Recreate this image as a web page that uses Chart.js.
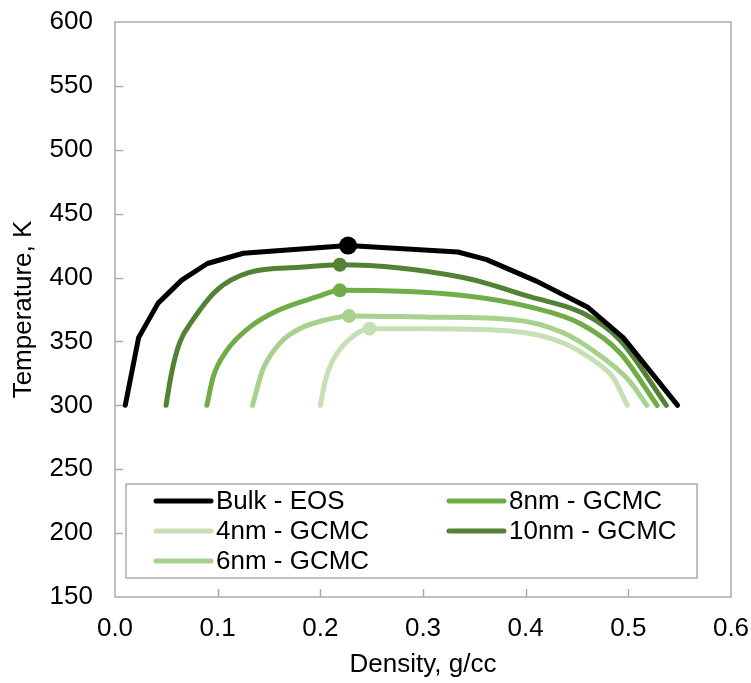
<!DOCTYPE html>
<html>
<head>
<meta charset="utf-8">
<script src="https://cdn.jsdelivr.net/npm/chart.js@4"></script>
<style>
  body { margin: 0; background: #fff; }
  #wrap { width: 751px; height: 683px; }
</style>
</head>
<body>
<div id="wrap"><canvas id="PhaseChart" width="751" height="683"></canvas></div>
<script>
// Density (g/cc) and temperature (K), one pair of arrays per curve
const bulkX = [0.01, 0.023, 0.042, 0.065, 0.09, 0.125, 0.227, 0.334, 0.362, 0.411, 0.46, 0.495, 0.548];
const bulkT = [300, 353, 380, 398, 411, 419, 425, 420, 414, 397, 377, 353, 300];

const nm4X = [0.2, 0.205, 0.212, 0.226, 0.248, 0.307, 0.388, 0.436, 0.47, 0.485, 0.499];
const nm4T = [300, 320, 335, 350, 360, 360, 358, 349, 333, 322, 300];

const nm6X = [0.134, 0.139, 0.144, 0.161, 0.18, 0.206, 0.228, 0.307, 0.388, 0.436, 0.469, 0.5, 0.518];
const nm6T = [300, 315, 328, 349, 360, 367, 370, 369, 367, 357, 341, 320, 300];

const nm8X = [0.0896, 0.0955, 0.109, 0.131, 0.158, 0.197, 0.219, 0.339, 0.404, 0.453, 0.492, 0.528];
const nm8T = [300, 322, 343, 361, 374, 385, 390, 386, 377, 364, 341, 300];

const nm10X = [0.0497, 0.055, 0.063, 0.076, 0.099, 0.131, 0.18, 0.219, 0.339, 0.404, 0.456, 0.492, 0.537];
const nm10T = [300, 325, 349, 367, 390, 404, 408, 410, 400, 385, 372, 351, 300];

// index of the critical point (the dot) in each curve
const critBulk = 6, crit4 = 4, crit6 = 6, crit8 = 6, crit10 = 7;

const xTicks = [0, 0.1, 0.2, 0.3, 0.4, 0.5, 0.6];
const yTicks = [150, 200, 250, 300, 350, 400, 450, 500, 550, 600];

const FONT = "'Liberation Sans', Arial, sans-serif";

function toPoints(xs, ts) {
    return xs.map((x, i) => ({ x: x, y: ts[i] }));
}

function makeSet(label, xs, ts, crit, color, width, dot, smooth) {
    return {
        label: label,
        data: toPoints(xs, ts),
        borderColor: color,
        backgroundColor: color,
        borderWidth: width,
        pointRadius: ctx => ctx.index === crit ? dot : 0,
        pointHoverRadius: ctx => ctx.index === crit ? dot : 0,
        pointBorderWidth: 0,
        cubicInterpolationMode: smooth ? 'monotone' : 'default',
        tension: 0,
        borderCapStyle: 'round',
        borderJoinStyle: 'round',
        fill: false
    };
}

// frame, inward tick marks and the boxed legend like Excel draws them
const excelLook = {
    id: 'excelLook',
    afterDraw(chart) {
        const ctx = chart.ctx;
        const a = chart.chartArea;
        const xs = chart.scales.x, ys = chart.scales.y;
        ctx.save();
        ctx.strokeStyle = '#ABABAB';
        ctx.lineWidth = 1.5;
        ctx.strokeRect(a.left, a.top, a.right - a.left, a.bottom - a.top);
        ctx.beginPath();
        xTicks.slice(1, -1).forEach(v => {
            const px = Math.round(xs.getPixelForValue(v)) + 0.5;
            ctx.moveTo(px, a.bottom);
            ctx.lineTo(px, a.bottom - 8);
        });
        yTicks.slice(1, -1).forEach(v => {
            const py = Math.round(ys.getPixelForValue(v)) + 0.5;
            ctx.moveTo(a.left, py);
            ctx.lineTo(a.left + 8, py);
        });
        ctx.stroke();

        // legend box
        const bx = a.left + 11, by = 484, bw = 571, bh = 94;
        ctx.fillStyle = '#fff';
        ctx.fillRect(bx, by, bw, bh);
        ctx.strokeStyle = '#ABABAB';
        ctx.lineWidth = 1.5;
        ctx.strokeRect(bx, by, bw, bh);
        // column-major order, 3 rows
        const cols = [bx + 30, bx + 323];
        const rows = [by + 17, by + 47, by + 77];
        ctx.font = '26px ' + FONT;
        ctx.textBaseline = 'middle';
        ctx.textAlign = 'left';
        chart.data.datasets.forEach((ds, i) => {
            const cx = cols[Math.floor(i / 3)];
            const cy = rows[i % 3];
            ctx.strokeStyle = ds.borderColor;
            ctx.lineWidth = 5;
            ctx.lineCap = 'round';
            ctx.beginPath();
            ctx.moveTo(cx, cy);
            ctx.lineTo(cx + 55, cy);
            ctx.stroke();
            ctx.fillStyle = '#000';
            ctx.fillText(ds.label, cx + 60, cy + 1);
        });
        ctx.restore();
    }
};

new Chart("PhaseChart", {
    type: "line",
    data: {
        datasets: [
            makeSet("Bulk - EOS", bulkX, bulkT, critBulk, '#000000', 5, 9, false),
            makeSet("4nm - GCMC", nm4X, nm4T, crit4, '#C5E0B4', 5, 7, true),
            makeSet("6nm - GCMC", nm6X, nm6T, crit6, '#A9D18E', 5, 7, true),
            makeSet("8nm - GCMC", nm8X, nm8T, crit8, '#70AD47', 5, 7, true),
            makeSet("10nm - GCMC", nm10X, nm10T, crit10, '#548235', 5, 7, true)
        ]
    },
    options: {
        responsive: false,
        animation: false,
        layout: { padding: { top: 22, right: 20, left: 0, bottom: 0 } },
        plugins: {
            legend: { display: false },
            tooltip: { enabled: false }
        },
        scales: {
            x: {
                type: 'linear',
                min: 0,
                max: 0.6,
                afterBuildTicks: s => { s.ticks = xTicks.map(v => ({ value: v })); },
                afterFit: s => { s.height = 86; s.paddingLeft = 0; s.paddingRight = 0; },
                grid: { display: false, drawTicks: false },
                border: { display: false },
                ticks: {
                    padding: 16,
                    color: '#000',
                    font: { family: FONT, size: 26 },
                    callback: v => v.toFixed(1)
                },
                title: {
                    display: true,
                    text: 'Density, g/cc',
                    color: '#000',
                    font: { family: FONT, size: 26 },
                    padding: { top: 0, bottom: 3 }
                }
            },
            y: {
                type: 'linear',
                min: 150,
                max: 600,
                afterBuildTicks: s => { s.ticks = yTicks.map(v => ({ value: v })); },
                afterFit: s => { s.width = 115; s.paddingTop = 0; s.paddingBottom = 0; },
                grid: { display: false, drawTicks: false },
                border: { display: false },
                ticks: {
                    padding: 22,
                    color: '#000',
                    font: { family: FONT, size: 26 },
                    callback: v => v
                },
                title: {
                    display: true,
                    text: 'Temperature, K',
                    color: '#000',
                    font: { family: FONT, size: 26 },
                    padding: { top: 8, bottom: 0 }
                }
            }
        }
    },
    plugins: [excelLook]
});
</script>
</body>
</html>
